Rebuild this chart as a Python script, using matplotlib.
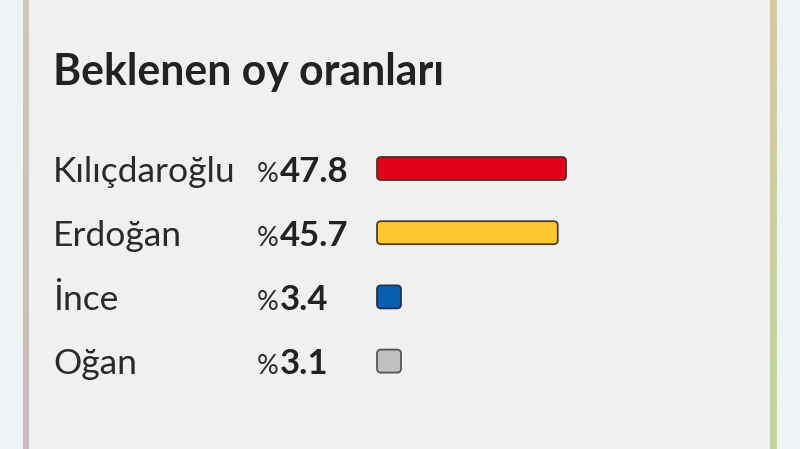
import numpy as np
import matplotlib
matplotlib.use("Agg")
from matplotlib import pyplot as plt
from matplotlib.patches import Rectangle, FancyBboxPatch
from matplotlib.colors import LinearSegmentedColormap

# data
title = "Beklenen oy oranları"
candidates = ["Kılıçdaroğlu", "Erdoğan", "İnce", "Oğan"]
shares = [47.8, 45.7, 3.4, 3.1]
bar_colors = ["#e2001a", "#fdc82f", "#0a5fb0", "#c0c0c0"]
edge_colors = ["#5e2a22", "#4f3f1c", "#1f3350", "#555555"]

FONT = "Lato"
W, H = 800, 449
fig = plt.figure(figsize=(W / 100, H / 100), dpi=100)
ax = fig.add_axes([0, 0, 1, 1])
ax.set_xlim(0, W)
ax.set_ylim(H, 0)
ax.axis("off")

# page + card background
ax.add_patch(Rectangle((0, 0), W, H, color="#eef3f5", zorder=0))
ax.add_patch(Rectangle((29, 0), 741, H, color="#f0f0f0", zorder=1))


def border(x0, x1, top, bottom):
    cmap = LinearSegmentedColormap.from_list("b", [top, bottom])
    grad = np.linspace(0, 1, 200).reshape(-1, 1)
    ax.imshow(grad, cmap=cmap, extent=(x0, x1, H, 0), aspect="auto",
              origin="upper", zorder=2)


border(23, 29, "#ccc9b8", "#cbbcbe")
border(770, 777, "#d7c8a0", "#c2d49c")
ax.set_xlim(0, W)
ax.set_ylim(H, 0)

ax.text(53, 85, title, fontsize=30.8, fontweight="bold", family=FONT,
        color="#222222", va="baseline", zorder=3)

row0, step = 168.5, 64.2
bar_x, px_per_pct, min_w, bar_h = 377, 3.955, 24, 23
for i, (name, val, fc, ec) in enumerate(zip(candidates, shares, bar_colors, edge_colors)):
    yc = row0 + i * step
    ax.text(53, yc + 13, name, fontsize=25.5, family=FONT, color="#2a2a2a",
            va="baseline", zorder=3)
    ax.text(257, yc + 13, "%", fontsize=19.5, family=FONT, color="#2a2a2a",
            va="baseline", zorder=3)
    ax.text(280, yc + 13, f"{val:.1f}", fontsize=25, fontweight="bold",
            family=FONT, color="#222222", va="baseline", zorder=3)
    w = max(val * px_per_pct, min_w)
    ax.add_patch(FancyBboxPatch((bar_x + 4, yc - bar_h / 2 + 4), w - 8, bar_h - 8,
                                boxstyle="round,pad=4", fc=fc, ec=ec, lw=1.3,
                                zorder=3))

fig.savefig("out.png", dpi=100, facecolor="#f0f0f0")
